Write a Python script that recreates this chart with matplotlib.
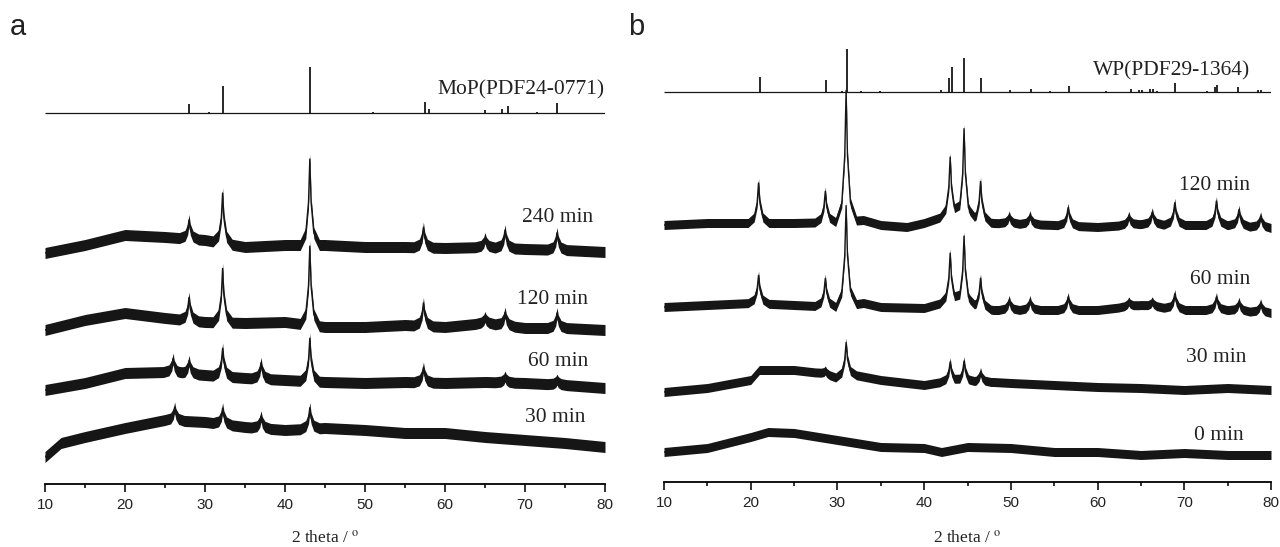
import numpy as np
import matplotlib
matplotlib.use('Agg')
import matplotlib.pyplot as plt

plt.rcParams['font.family'] = ['Liberation Sans', 'DejaVu Sans']
plt.rcParams['mathtext.fontset'] = 'stix'

INK = '#161616'

# ---- panel a: MoP ----
mop_ref_pos = [28.0, 30.5, 32.2, 43.1, 51.0, 57.5, 58.0, 65.0, 67.1, 67.9, 71.5, 74.0]
mop_ref_h = [9, 1, 27, 46, 1, 11, 4, 3, 4, 7, 1, 10]

a_base_x = [10, 15, 20, 25, 30, 35, 40, 45, 50, 55, 60, 65, 70, 75, 80]
a30_x = [10, 12, 15, 20, 25, 30, 35, 40, 45, 50, 55, 60, 65, 70, 75, 80]

a240_base = [231, 239, 249, 247, 244, 237, 239, 239, 237, 237, 236, 237, 235, 234, 232]
a120_base = [154, 164, 171, 166, 162, 161, 162, 157, 157, 159, 157, 161, 156, 156, 154]
a60_base = [94, 101, 111, 112, 109, 106, 104, 102, 101, 102, 101, 102, 101, 99, 96]
a30_base = [27, 41, 47, 56, 64, 62, 57, 54, 56, 54, 51, 51, 47, 44, 41, 37]

a_peak_pos = [28.0, 32.2, 43.1, 57.3, 65.0, 67.5, 74.0]
a240_h = [19, 50, 86, 20, 9, 18, 17]
a120_h = [23, 54, 79, 23, 6, 13, 15]
a60_pos = [26.0, 28.0, 32.2, 37.0, 43.1, 57.3, 67.5, 74.0]
a60_h = [14, 13, 28, 16, 43, 15, 6, 5]
a30_pos = [26.2, 32.2, 37.0, 43.1]
a30_h = [13, 16, 12, 21]

# ---- panel b: WP ----
wp_ref_pos = [21.07, 28.7, 30.5, 31.07, 32.7, 34.9, 42.0, 42.9, 43.25, 44.6, 46.5, 49.9,
              52.3, 54.5, 56.7, 61.0, 63.9, 64.8, 65.1, 66.1, 66.4, 66.9, 68.9, 72.6,
              73.5, 73.8, 76.2, 78.5, 78.8]
wp_ref_h = [15, 12, 1, 43, 1, 1, 2, 14, 25, 34, 14, 2,
            3, 1, 6, 1, 3, 2, 2, 3, 3, 1, 9, 1,
            5, 7, 5, 2, 2]

b120_x = [10, 15, 20, 25, 30, 33, 35, 38, 40, 42, 48, 55, 60, 65, 70, 75, 80]
b120_base = [257, 259, 259, 259, 260, 262, 257, 255, 259, 265, 259, 257, 255, 258, 257, 257, 254]
b_peak_pos = [20.9, 28.6, 31.0, 43.0, 44.6, 46.5, 49.8, 52.2, 56.6, 63.6, 66.3, 68.9, 73.7, 76.3, 78.8]
b120_h = [40, 31, 131, 61, 91, 40, 8, 9, 18, 9, 12, 22, 24, 16, 11]

b60_x = [10, 15, 20, 25, 30, 33, 35, 40, 42, 48, 55, 60, 65, 70, 75, 80]
b60_base = [175, 177, 179, 177, 175, 179, 175, 174, 179, 172, 172, 172, 177, 172, 172, 169]
b60_h = [28, 28, 100, 51, 70, 30, 10, 10, 13, 5, 5, 15, 13, 9, 9]

b30_x = [10, 15, 20, 21, 25, 28, 30, 32, 35, 40, 42, 48, 50, 55, 60, 65, 70, 75, 80]
b30_base = [90, 94, 102, 112, 112, 109, 104, 107, 102, 97, 100, 100, 99, 97, 95, 94, 92, 94, 92]
b30_pos = [28.6, 31.0, 43.0, 44.6, 46.5]
b30_h = [4, 34, 20, 21, 10]

b0_x = [10, 15, 20, 22, 25, 30, 35, 40, 42, 45, 50, 55, 60, 65, 70, 75, 80]
b0_base = [30, 34, 45, 50, 49, 42, 35, 34, 30, 35, 34, 30, 30, 27, 29, 27, 27]

# peak outline (style): offsets in degrees and fraction of peak height
PK_DX = [-1.2, -0.5, -0.16, 0.0, 0.16, 0.5, 1.2]
PK_FR = [0.0, 0.14, 0.5, 1.0, 0.5, 0.14, 0.0]


def build_trace(bx, by, ppos, ph):
    xs = [x for x in bx
          if all(abs(x - p) > PK_DX[-1] for p in ppos) or x in (bx[0], bx[-1])]
    for p in ppos:
        xs += [p + dx for dx in PK_DX]
    x = np.array(sorted(set(xs)))
    y = np.interp(x, bx, by)
    for p, h in zip(ppos, ph):
        y = y + h * np.interp(x - p, PK_DX, PK_FR, left=0, right=0)
    return x, y


def draw_trace(ax, bx, by, ppos, ph, noise):
    x, y = build_trace(bx, by, ppos, ph)
    ax.fill_between(x, y - noise, y + noise, color=INK, lw=0)
    ax.plot(x, y, color=INK, lw=1.0)


def style_axis(ax, ymax):
    ax.set_xlim(10, 80)
    ax.set_ylim(0, ymax)
    for s in ['left', 'right', 'top']:
        ax.spines[s].set_visible(False)
    ax.spines['bottom'].set_linewidth(1.3)
    ax.set_yticks([])
    ax.set_xticks(range(10, 81, 10))
    ax.set_xticks(range(15, 80, 10), minor=True)
    ax.tick_params(axis='x', which='major', direction='out', length=5.8, width=1.3,
                   labelsize=11, pad=4.5, colors='#222222')
    ax.tick_params(axis='x', which='minor', direction='out', length=3.0, width=1.3,
                   colors='#222222')
    ax.patch.set_alpha(0)


fig = plt.figure(figsize=(12.8, 5.47), dpi=100)
serif = ['Liberation Serif', 'DejaVu Serif']

# panel a
axa = fig.add_axes([45 / 1280, 63 / 547, 560 / 1280, 484 / 547])
style_axis(axa, 484)
ref_a = 371
axa.hlines(ref_a, 10, 80, color=INK, lw=0.9)
axa.vlines(mop_ref_pos, ref_a, [ref_a + h for h in mop_ref_h], color=INK, lw=1.3)
draw_trace(axa, a_base_x, a240_base, a_peak_pos, a240_h, 5.5)
draw_trace(axa, a_base_x, a120_base, a_peak_pos, a120_h, 5.5)
draw_trace(axa, a_base_x, a60_base, a60_pos, a60_h, 5.5)
draw_trace(axa, a30_x, a30_base, a30_pos, a30_h, 5.5)
for tx, ty, s in [(80.0, 394, 'MoP(PDF24-0771)'), (78.5, 267, '240 min'),
                  (77.9, 184, '120 min'), (77.9, 122, '60 min'), (77.5, 66, '30 min')]:
    axa.text(tx, ty, s, ha='right', va='center', fontsize=15.5, family=serif, color='#222222')

# panel b
axb = fig.add_axes([664 / 1280, 65 / 547, 607 / 1280, 482 / 547])
style_axis(axb, 482)
ref_b = 390
axb.hlines(ref_b, 10, 80, color=INK, lw=0.9)
axb.vlines(wp_ref_pos, ref_b, [ref_b + h for h in wp_ref_h], color=INK, lw=1.3)
draw_trace(axb, b120_x, b120_base, b_peak_pos, b120_h, 4.5)
draw_trace(axb, b60_x, b60_base, b_peak_pos, b60_h, 4.5)
draw_trace(axb, b30_x, b30_base, b30_pos, b30_h, 4.5)
draw_trace(axb, b0_x, b0_base, [], [], 4.5)
for tx, ty, s in [(77.6, 411, 'WP(PDF29-1364)'), (77.6, 297, '120 min'),
                  (77.6, 202, '60 min'), (77.2, 124, '30 min'), (76.8, 46, '0 min')]:
    axb.text(tx, ty, s, ha='right', va='center', fontsize=15.5, family=serif, color='#222222')

# x labels and panel letters
for cx in [325 / 1280, 967.5 / 1280]:
    fig.text(cx, 4 / 547, r'2 theta / $^{\mathrm{o}}$', ha='center', va='baseline',
             fontsize=12.5, family=serif, color='#222222')
fig.text(10 / 1280, 1 - 35 / 547, 'a', fontsize=21, va='baseline', color='#222222')
fig.text(628 / 1280, 1 - 35 / 547, 'b', fontsize=21, va='baseline', color='#222222')

fig.savefig('out.png', dpi=100)
